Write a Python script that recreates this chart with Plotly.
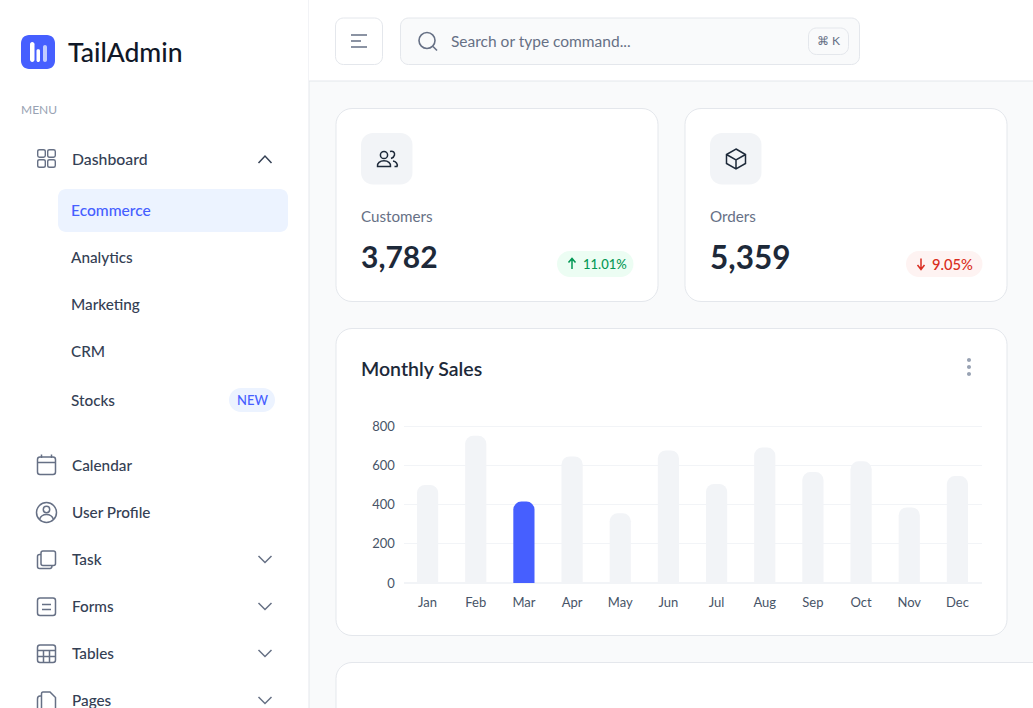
import re
import plotly.graph_objects as go

# ---------- data ----------
months = ["Jan", "Feb", "Mar", "Apr", "May", "Jun", "Jul", "Aug", "Sep", "Oct", "Nov", "Dec"]
sales = [500, 750, 415, 645, 355, 675, 505, 690, 565, 620, 385, 545]
y_ticks = [0, 200, 400, 600, 800]
highlight_month = "Mar"
submenu = ["Analytics", "Marketing", "CRM", "Stocks"]
menu_items = ["Calendar", "User Profile", "Task", "Forms", "Tables", "Pages"]

W, H = 1033, 708
FONT = "Lato"
BLUE = "#465FFF"
BORDER = "#E4E7EC"
DARK = "#1D2939"
GRAY = "#667085"
NAV = "#344054"

shapes, notes = [], []
X = lambda p: p / W
Y = lambda p: 1 - p / H


def conv(d):
    toks = re.findall(r"[MLCQZ]|-?\d+\.?\d*", d)
    out, isx = [], True
    for t in toks:
        if t in "MLCQZ":
            out.append(t)
            isx = True
        else:
            v = float(t)
            out.append(f"{X(v) if isx else Y(v):.6f}")
            isx = not isx
    s = ""
    j = 0
    while j < len(out):
        if out[j] in "MLCQZ":
            s += out[j]
            j += 1
            first = True
            while j < len(out) and out[j] not in "MLCQZ":
                s += ("" if first else " ") + out[j] + "," + out[j + 1]
                first = False
                j += 2
        else:
            j += 1
    return s


def path(d, fill=None, line=None, lw=1.5):
    shapes.append(dict(type="path", path=conv(d), xref="paper", yref="paper", layer="below",
                       fillcolor=fill or "rgba(0,0,0,0)",
                       line=dict(color=line or "rgba(0,0,0,0)", width=lw if line else 0)))


def rr(x0, y0, x1, y1, r):
    k = r * 0.448
    return (f"M{x0+r} {y0} L{x1-r} {y0} C{x1-k} {y0} {x1} {y0+k} {x1} {y0+r} "
            f"L{x1} {y1-r} C{x1} {y1-k} {x1-k} {y1} {x1-r} {y1} "
            f"L{x0+r} {y1} C{x0+k} {y1} {x0} {y1-k} {x0} {y1-r} "
            f"L{x0} {y0+r} C{x0} {y0+k} {x0+k} {y0} {x0+r} {y0} Z")


def box(x0, y0, x1, y1, r, fill=None, line=None, lw=1):
    path(rr(x0, y0, x1, y1, r), fill, line, lw)


def circ(cx, cy, r, fill=None, line=None, lw=1.5):
    box(cx - r, cy - r, cx + r, cy + r, r, fill, line, lw)


def text(s, x, y, size=14, color=NAV, weight=400, anchor="left"):
    # the left-anchored labels sit a pixel inside their box, the middle anchor a little low
    px = x - 1 if anchor == "left" else x
    notes.append(dict(text=s, x=X(px), y=Y(y - 0.8), xref="paper", yref="paper", showarrow=False,
                      xanchor=anchor, yanchor="middle", align=anchor, borderpad=0,
                      font=dict(family=FONT, size=size, color=color, weight=weight)))


# ---------- page chrome ----------
box(0, 0, 309, 708, 0, "#FFFFFF")
path("M309 0 L309 708", None, BORDER, 1)
box(309, 0, 1033, 81, 0, "#FFFFFF")
path("M309 81 L1033 81", None, BORDER, 1)

# logo
box(21, 35, 55, 69, 8, BLUE)
box(30, 42, 34.5, 62, 2.2, "#FFFFFF")
box(36.5, 49, 40, 62, 1.8, "#FFFFFF")
box(43, 45, 47, 62, 2, "#C2CCFF")
text("TailAdmin", 68, 52.5, 26.5, "#101828", 500)

text("MENU", 20.5, 110, 12, "#98A2B3")

# dashboard group
for cx, cy in [(41.5, 153.5), (51.5, 153.5), (41.5, 163.5), (51.5, 163.5)]:
    box(cx - 3.8, cy - 3.8, cx + 3.8, cy + 3.8, 1.8, None, GRAY, 1.4)
text("Dashboard", 71.5, 159, 15.8, NAV, 500)
path("M258.5 163 L265 156 L271.5 163", None, NAV, 1.5)
box(58, 189, 288, 232, 8, "#ECF3FF")
text("Ecommerce", 70.5, 210.5, 15.6, BLUE, 500)
for label, yy in zip(submenu, [257.5, 304.5, 352, 400.5]):
    text(label, 70.5, yy, 15.3, NAV, 500)
box(229, 388, 275, 412, 12, "#ECF3FF")
text("NEW", 252, 400.5, 13, BLUE, 500, "center")

# nav rows
nav_y = [465.5, 512.5, 559.5, 606.5, 653.5, 700.5]
for label, yy in zip(menu_items, nav_y):
    text(label, 71.5, yy, 15.3, NAV, 500)
for yy in nav_y[2:]:
    path(f"M258.5 {yy-3.5} L265 {yy+3} L271.5 {yy-3.5}", None, GRAY, 1.5)

# calendar
box(37.5, 457, 55.5, 474.5, 2.5, None, GRAY, 1.5)
path("M37.5 462.5 L55.5 462.5 M41.5 454.5 L41.5 458 M51.5 454.5 L51.5 458", None, GRAY, 1.5)
# user
circ(46.5, 512.5, 10, None, GRAY, 1.5)
circ(46.5, 509.5, 3.2, None, GRAY, 1.5)
path("M39.5 519.5 C41 515 44 514.5 46.5 514.5 C49 514.5 52 515 53.5 519.5", None, GRAY, 1.5)
# task
box(41, 551, 55.5, 565.5, 2, None, GRAY, 1.5)
path("M41 554.5 L39.5 554.5 C38.2 554.5 37.5 555.3 37.5 556.5 L37.5 566.5 C37.5 568 38.3 568.5 39.5 568.5 L50 568.5 C51.5 568.5 52 567.5 52 565.5", None, GRAY, 1.5)
# forms
box(37.5, 598, 55.5, 615.5, 2.5, None, GRAY, 1.5)
path("M42 604.5 L51 604.5 M42 609.5 L51 609.5", None, GRAY, 1.5)
# tables
box(37.5, 645, 55.5, 662.5, 2.5, None, GRAY, 1.5)
path("M37.5 650.5 L55.5 650.5 M37.5 656.5 L55.5 656.5 M43.5 650.5 L43.5 662.5 M49.5 650.5 L49.5 662.5", None, GRAY, 1.5)
# pages
path("M43 692 L50 692 L55.5 697.5 L55.5 708 M43 692 C41.5 692 41.5 693 41.5 694 L41.5 708 M41.5 696 L40 696 C38.5 696 37.5 697 37.5 699 L37.5 708", None, GRAY, 1.5)

# header
box(335.5, 18, 382.5, 64.5, 8, "#FFFFFF", BORDER, 1)
path("M351 35 L367 35 M351 41 L361 41 M351 47 L367 47", None, GRAY, 1.5)
box(400.5, 18, 859.5, 64.5, 8, "#F9FAFB", BORDER, 1)
circ(427, 40.5, 8, None, GRAY, 1.6)
path("M433 46.5 L437 50.5", None, GRAY, 1.6)
text("Search or type command...", 450.5, 41.5, 15.5, GRAY)
box(808.5, 28, 848.5, 54.5, 8, "#F9FAFB", BORDER, 1)
text("⌘ K", 828.5, 41.5, 12, GRAY, 400, "center")

# stat cards
box(336, 108.5, 658, 301.5, 16, "#FFFFFF", BORDER, 1)
box(361, 133, 412.5, 184.5, 12, "#F2F4F7")
circ(384, 155, 3.6, None, DARK, 1.5)
path("M377.5 166.5 C377 163 380 160.8 384 160.8 C388 160.8 391 163 390.5 166.5 Z", None, DARK, 1.5)
path("M390 151.5 C393 150.5 395 152.5 394.5 155 C394 157.5 392.5 158 391 158.5 M393 161 C396 161.5 398 164 397 166.5 L394.5 166.5", None, DARK, 1.5)
text("Customers", 360.5, 217, 15.2, GRAY)
text("3,782", 360.5, 257, 30, DARK, 700)
box(557, 251, 633.5, 277, 13, "#ECFDF3")
path("M572 269 L572 259 M568.5 262.5 L572 258.5 L575.5 262.5", None, "#039855", 1.5)
text("11.01%", 582.5, 264.5, 13, "#039855", 500)

box(685, 108.5, 1007, 301.5, 16, "#FFFFFF", BORDER, 1)
box(710, 133, 761.5, 184.5, 12, "#F2F4F7")
path("M736 149 L745.5 154.5 L745.5 163.5 L736 169 L726.5 163.5 L726.5 154.5 Z M726.5 154.5 L736 160 L745.5 154.5 M736 160 L736 169", None, DARK, 1.5)
text("Orders", 709.5, 217, 15.2, GRAY)
text("5,359", 709.5, 257.5, 31.5, DARK, 700)
box(906, 251, 982.5, 277, 13, "#FEF3F2")
path("M921 258.5 L921 269 M917.5 265 L921 269.5 L924.5 265", None, "#D92D20", 1.5)
text("9.05%", 931.5, 264.5, 14.7, "#D92D20", 500)

# monthly sales card
box(336, 328.5, 1007, 635.5, 16, "#FFFFFF", BORDER, 1)
text("Monthly Sales", 360.5, 369, 19.5, DARK, 600)
for yy in [360, 367, 374]:
    circ(969, yy, 2, "#98A2B3")

# lower card (clipped by the page edge)
box(336, 662.5, 1060, 760, 16, "#FFFFFF", BORDER, 1)

# ---------- chart ----------
colors = [BLUE if m == highlight_month else "#F2F4F7" for m in months]
fig = go.Figure(go.Bar(x=months, y=sales, marker=dict(color=colors, cornerradius=8, line_width=0),
                       hoverinfo="skip"))
fig.update_layout(
    width=W, height=H, margin=dict(l=0, r=0, t=0, b=0, pad=0, autoexpand=False), autosize=False,
    paper_bgcolor="#F9FAFB", plot_bgcolor="rgba(0,0,0,0)", showlegend=False, bargap=0.56,
    font=dict(family=FONT, color="#475467", size=13),
    shapes=shapes, annotations=notes,
    xaxis=dict(domain=[403.5 / W, 981.5 / W], type="category", categoryorder="array", categoryarray=months,
               automargin=False, showgrid=False, zeroline=False, showline=False, ticks="outside", ticklen=7,
               tickcolor="rgba(0,0,0,0)", tickfont=dict(size=13, color="#475467")),
    # the range runs past 800 so that the top grid line is not clipped at the axis end
    yaxis=dict(domain=[1 - 583 / H, 1 - 418.15 / H], range=[0, 840], tickvals=y_ticks, automargin=False,
               showgrid=True, gridcolor="#F2F4F7", gridwidth=1, zeroline=True, zerolinecolor="#F2F4F7",
               showline=False, ticks="outside", ticklen=5, tickcolor="rgba(0,0,0,0)",
               tickfont=dict(size=13, color="#475467")),
)
post = """
document.documentElement.style.overflow='hidden';
document.body.style.margin='0';
"""
fig.write_html("out.html", config=dict(displayModeBar=False, staticPlot=True), post_script=post)
